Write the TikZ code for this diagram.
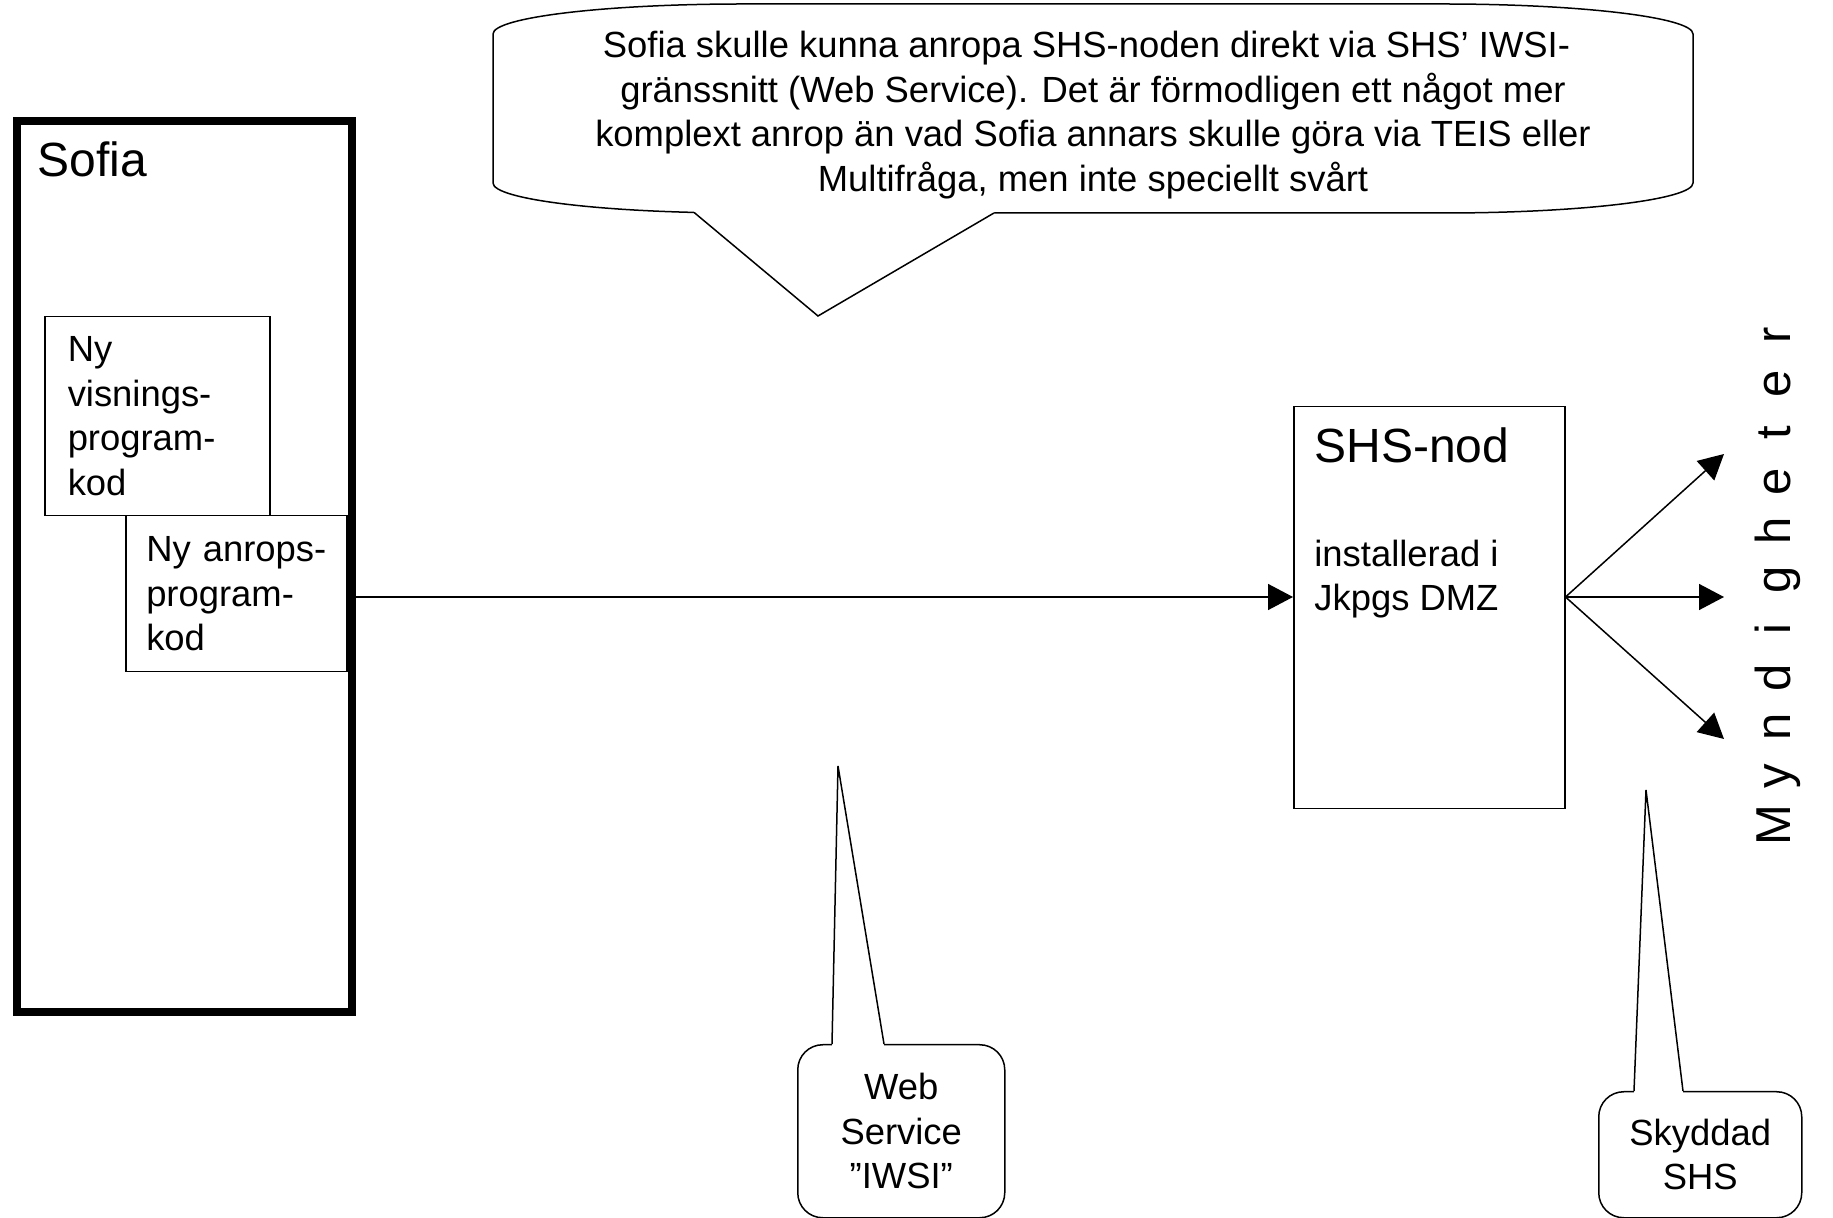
\documentclass[tikz,border=0pt]{standalone}
\usepackage{fontspec}
\setmainfont{Liberation Sans}
\usetikzlibrary{arrows.meta}
\newcommand\myBody{\fontsize{18.2pt}{22.2pt}\selectfont}
\newcommand\myBig{\fontsize{24pt}{28pt}\selectfont}
\newcommand\myVert{\fontsize{24.5pt}{28pt}\selectfont}
\newcommand\lsp[1]{\makebox[24.5pt]{#1}}
\begin{document}
\begin{tikzpicture}[x=0.5pt,y=-0.5pt,
  thinline/.style={line width=0.75pt},
  boxnode/.style={draw, thinline, inner sep=0pt, anchor=north west},
  txtbox/.style={boxnode, align=left, font=\myBody},
  bubble/.style={draw, thinline, anchor=north west, inner sep=0pt, align=center, font=\myBody},
  conn/.style={thinline, -{Triangle[length=12.5pt,width=13pt]}},
  eraser/.style={draw=white, line width=1.6pt}]
\useasboundingbox (0,0) rectangle (1833,1218);

% Sofia
\node[draw, line width=4pt, inner sep=0pt, minimum width=167.5pt, minimum height=445.5pt, anchor=north west] (sofia) at (13,117) {};
\node[anchor=base west, font=\myBig, inner sep=0pt] (sofiatitle) at (37,177) {Sofia};
\node[txtbox, minimum width=112.5pt, minimum height=99.5pt, text width=89.5pt, inner xsep=11.5pt] (visning) at (44,316) {Ny\\visnings-\\program-\\kod};
\node[txtbox, minimum width=110.5pt, minimum height=78pt, text width=90pt, inner xsep=10.25pt] (anrop) at (125,515) {\mbox{Ny anrops-}\\program-\\kod};

% SHS node
\node[boxnode, minimum width=135.5pt, minimum height=201pt] (shs) at (1293,406) {};
\node[anchor=base west, font=\myBig, inner sep=0pt] (shstitle) at (1314,463) {SHS-nod};
\node[anchor=base west, font=\myBody, inner sep=0pt] (shsline1) at (1314,567) {installerad i};
\node[anchor=base west, font=\myBody, inner sep=0pt] (shsline2) at (1314,611) {Jkpgs DMZ};

% connectors
\coordinate (lineY) at (0,597);
\draw[conn] (sofia.east |- lineY) -- (shs.west |- lineY);
\coordinate (m1) at (1724,454);
\coordinate (m2) at (1724,597);
\coordinate (m3) at (1724,739);
\draw[conn] (shs.east |- lineY) -- (m1);
\draw[conn] (shs.east |- lineY) -- (m2);
\draw[conn] (shs.east |- lineY) -- (m3);

% Myndigheter
\node[rotate=90, anchor=base, font=\myVert, inner sep=0pt] (mynd) at (1790,580) {\lsp{M}\lsp{y}\lsp{n}\lsp{d}\lsp{i}\lsp{g}\lsp{h}\lsp{e}\lsp{t}\lsp{e}\lsp{r}};

% top callout (elliptic corners)
\node[align=center, font=\myBody, inner sep=0pt] (notetext) at (1093,115) {Sofia skulle kunna anropa SHS-noden direkt via SHS’ IWSI-\hspace*{6.5pt}\\gränssnitt (Web Service). Det är förmodligen ett något mer\\komplext anrop än vad Sofia annars skulle göra via TEIS eller\\Multifråga, men inte speciellt svårt};
\draw[thinline] (743,4) -- (1443,4) .. controls (1581,4) and (1693,17.4) .. (1693,34)
  -- (1693,183) .. controls (1693,199.6) and (1581,213) .. (1443,213)
  -- (743,213) .. controls (605,213) and (493,199.6) .. (493,183)
  -- (493,34) .. controls (493,17.4) and (605,4) .. (743,4) -- cycle;
\coordinate (noteA) at (694,212.4);
\coordinate (noteTip) at (818,316);
\coordinate (noteB) at (994,213);
\draw[eraser] (noteA) -- (noteB);
\draw[thinline] (noteA) -- (noteTip) -- (noteB);

% Web Service callout
\node[bubble, rounded corners=12.5pt, minimum width=103.5pt, minimum height=86.5pt] (web) at (797,1044) {Web\\Service\\”IWSI”};
\coordinate (webA) at (832,1044);
\coordinate (webTip) at (838,766);
\coordinate (webB) at (884,1044);
\draw[eraser] (webA) -- (webB);
\draw[thinline] (webA) -- (webTip) -- (webB);

% Skyddad SHS callout
\node[bubble, rounded corners=12.5pt, minimum width=101.5pt, minimum height=63pt] (skydd) at (1598,1091) {Skyddad\\SHS};
\coordinate (skA) at (1634,1091);
\coordinate (skTip) at (1646,790);
\coordinate (skB) at (1683,1091);
\draw[eraser] (skA) -- (skB);
\draw[thinline] (skA) -- (skTip) -- (skB);
\end{tikzpicture}
\end{document}
